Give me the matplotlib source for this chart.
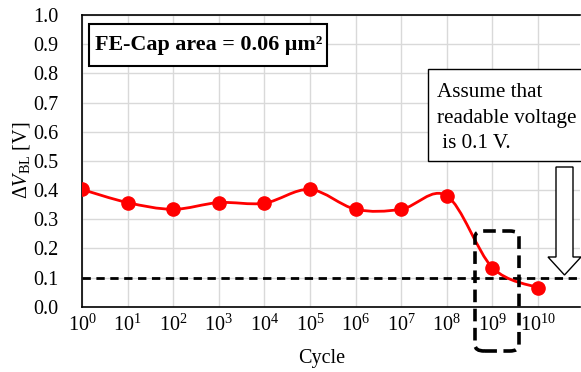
import matplotlib
matplotlib.use("Agg")
import matplotlib.pyplot as plt
import numpy as np
from matplotlib.path import Path
from matplotlib.patches import PathPatch, Rectangle, FancyBboxPatch, Polygon

# ---- data ----
exponents = [0, 1, 2, 3, 4, 5, 6, 7, 8, 9, 10]
dv_bl = [0.402, 0.357, 0.334, 0.357, 0.355, 0.402, 0.334, 0.334, 0.380, 0.134, 0.065]
tick_labels = [r"$10^{%d}$" % e for e in exponents]
y_ticks = [round(0.1 * i, 1) for i in range(11)]
threshold = 0.1
title_text = "FE-Cap area = 0.06 µm²"
note_lines = ["Assume that", "readable voltage", " is 0.1 V."]

plt.rcParams["font.family"] = ["Liberation Serif", "DejaVu Serif"]
plt.rcParams["mathtext.fontset"] = "custom"
plt.rcParams["mathtext.rm"] = "Liberation Serif"
plt.rcParams["mathtext.it"] = "Liberation Serif:italic"
plt.rcParams["mathtext.bf"] = "Liberation Serif:bold"

W, H = 581, 372
fig = plt.figure(figsize=(W / 100, H / 100), dpi=100)

def fx(px):
    return px / W

def fy(py):
    return 1 - py / H

ax_l, ax_r, ax_t, ax_b = 82, 580, 15, 306.7
ax = fig.add_axes([fx(ax_l), fy(ax_b), fx(ax_r - ax_l), (ax_b - ax_t) / H])
ax.set_xlim(0, (ax_r - ax_l) / 45.6)
ax.set_ylim(0, 1.0)
ax.set_xticks(exponents)
ax.set_xticklabels(tick_labels, fontsize=14.5)
ax.set_yticks(y_ticks)
ax.set_yticklabels(["%.1f" % v for v in y_ticks], fontsize=14.5)
ax.tick_params(axis="y", length=0, pad=17)
ax.tick_params(axis="x", length=0, pad=6)
ax.grid(True, color="#d9d9d9", lw=1)
ax.set_axisbelow(True)
for s in ["left", "bottom", "top"]:
    ax.spines[s].set_color("black")
    ax.spines[s].set_linewidth(1.2)
ax.spines["right"].set_visible(False)

# smooth (Catmull-Rom style) curve through the data points
x = np.array(exponents, dtype=float)
y = np.array(dv_bl, dtype=float)
verts = [(x[0], y[0])]
codes = [Path.MOVETO]
n = len(x)
for i in range(n - 1):
    p0 = np.array([x[max(i - 1, 0)], y[max(i - 1, 0)]])
    p1 = np.array([x[i], y[i]])
    p2 = np.array([x[i + 1], y[i + 1]])
    p3 = np.array([x[min(i + 2, n - 1)], y[min(i + 2, n - 1)]])
    c1 = p1 + (p2 - p0) / 6.0
    c2 = p2 - (p3 - p1) / 6.0
    verts += [tuple(c1), tuple(c2), tuple(p2)]
    codes += [Path.CURVE4] * 3
ax.add_patch(PathPatch(Path(verts, codes), fill=False, edgecolor="#ff0000", lw=2, zorder=3))
ax.plot(x, y, "o", color="#ff0000", markersize=9.5, zorder=4)

ax.axhline(threshold, color="black", lw=2, ls=(0, (3, 2)), zorder=2)

ax.set_xlabel("Cycle", fontsize=14.5)
ax.xaxis.set_label_coords(0.482, -0.145)
ax.set_ylabel(r"$\Delta\mathit{V}_{\mathrm{BL}}$ [V]", fontsize=14.5, labelpad=1)

# FE-Cap box
fig.patches.append(Rectangle((fx(89), fy(66)), fx(327 - 89), (66 - 24) / H,
                             transform=fig.transFigure, fill=True, facecolor="white",
                             edgecolor="black", lw=1.5, zorder=5))
fig.text(fx(209), fy(45), title_text, ha="center", va="center", fontsize=15.8,
         fontweight="bold", zorder=6)

# note box
fig.patches.append(Rectangle((fx(428), fy(161)), fx(160), (161 - 69) / H,
                             transform=fig.transFigure, facecolor="white",
                             edgecolor="black", lw=1.0, zorder=5))
for k, line in enumerate(note_lines):
    fig.text(fx(437), fy(90 + 25.5 * k), line, ha="left", va="center_baseline",
             fontsize=15.2, zorder=6)

# hollow arrow
arrow_px = [(556, 167), (573, 167), (573, 257), (581, 257), (564.5, 275),
            (548, 257), (556, 257)]
fig.patches.append(Polygon([(fx(a), fy(b)) for a, b in arrow_px], closed=True,
                           transform=fig.transFigure, facecolor="white",
                           edgecolor="black", lw=1.0, zorder=5))

# dashed rounded rectangle
fig.patches.append(FancyBboxPatch((fx(475), fy(351)), fx(519 - 475), (351 - 231) / H,
                                  boxstyle="round,pad=0,rounding_size=0.016",
                                  transform=fig.transFigure, fill=False,
                                  edgecolor="black", lw=2.6, ls=(0, (3.5, 1.8)),
                                  zorder=7))

fig.savefig("out.png", dpi=100)
